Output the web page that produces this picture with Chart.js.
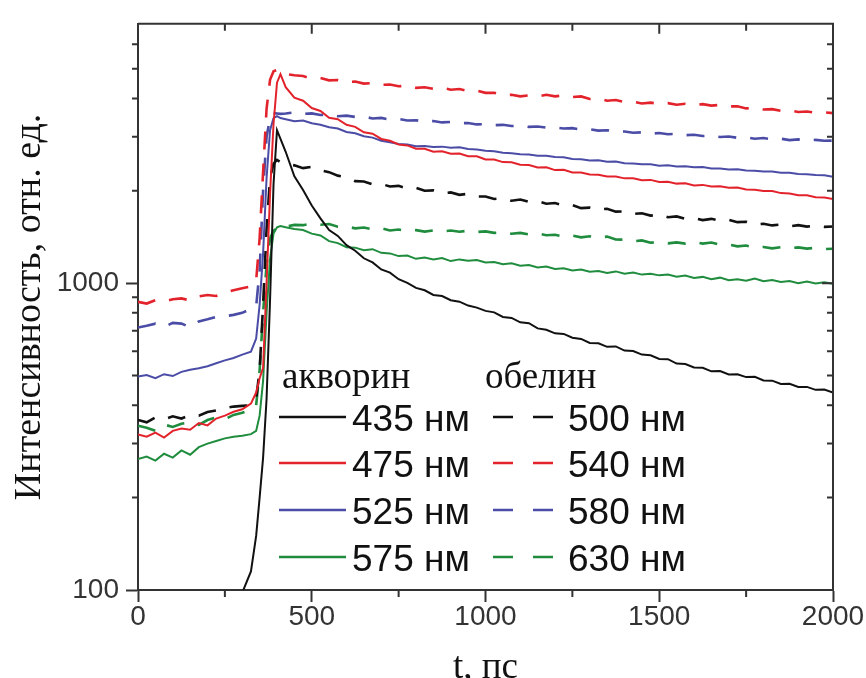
<!DOCTYPE html>
<html><head><meta charset="utf-8">
<script src="https://cdn.jsdelivr.net/npm/chart.js@4.4.0/dist/chart.umd.min.js"></script>
<style>html,body{margin:0;padding:0;background:#fff}#wrap{width:866px;height:678px}</style>
</head><body>
<div id="wrap"><canvas id="c" width="866" height="678"></canvas></div>
<script>
// time axis (ps)
const T = [0,25,50,75,100,125,150,175,200,225,250,275,300,325,
  340,350,360,370,380,390,400,410,
  425,450,475,500,525,550,575,600,625,650,675,700,725,750,775,800,825,850,875,900,925,950,975,1000,
  1025,1050,1075,1100,1125,1150,1175,1200,1225,1250,1275,1300,1325,1350,1375,1400,1425,1450,1475,1500,
  1525,1550,1575,1600,1625,1650,1675,1700,1725,1750,1775,1800,1825,1850,1875,1900,1925,1950,1975,2000];

// aequorin (solid)
const aq435 = [40,42,41,43,44,45,46,48,50,55,62,75,98,115,
  150,200,270,420,880,2100,3150,2950,
  2680,2230,2010,1790,1625,1490,1425,1330,1275,1205,1168,1108,1082,1030,1002,965,948,915,908,880,870,845,832,812,
  803,776,770,745,740,712,705,686,683,664,658,638,637,620,622,603,601,585,582,566,
  565,547,545,531,530,516,517,504,505,494,495,482,481,469,470,459,459,449,450,440];
const aq475 = [321,316,326,314,330,336,333,350,344,362,370,381,388,405,
  440,490,530,1000,1950,3300,4500,4800,
  4350,4020,3930,3720,3640,3460,3420,3280,3230,3100,3070,2950,2910,2830,2810,2740,2740,2680,2690,2640,2645,2590,2590,2530,
  2530,2480,2475,2430,2425,2380,2385,2335,2340,2295,2295,2260,2255,2225,2225,2195,2195,2165,2170,2135,
  2140,2110,2115,2080,2090,2065,2070,2045,2050,2020,2015,1995,1995,1965,1960,1935,1935,1905,1900,1880];
const aq525 = [496,502,490,505,498,514,522,528,536,548,560,570,585,598,
  660,850,1250,2200,3150,3450,3500,3450,
  3420,3370,3390,3320,3280,3220,3190,3110,3080,3010,2980,2910,2880,2840,2830,2795,2800,2775,2785,2760,2770,2735,2725,2700,
  2690,2660,2650,2630,2625,2600,2600,2575,2570,2540,2535,2510,2515,2485,2490,2460,2455,2440,2440,2415,
  2420,2400,2405,2385,2390,2365,2365,2345,2350,2330,2325,2310,2310,2290,2290,2270,2265,2250,2245,2220];
const aq575 = [267,272,264,278,270,285,276,292,300,306,312,316,318,322,
  330,370,480,800,1200,1450,1520,1535,
  1520,1500,1490,1450,1430,1370,1350,1310,1305,1280,1290,1255,1250,1225,1230,1200,1212,1195,1208,1180,1195,1182,1190,1168,
  1172,1152,1160,1140,1145,1125,1132,1112,1118,1100,1108,1090,1095,1080,1092,1074,1082,1066,1072,1060,
  1066,1050,1058,1040,1048,1030,1042,1022,1030,1018,1035,1015,1024,1008,1016,1000,1012,998,1006,995];

// obelin (dashed)
const ob500 = [358,352,365,360,368,362,372,370,380,385,392,396,398,400,
  420,520,850,1500,2200,2450,2520,2480,
  2450,2420,2370,2395,2330,2300,2240,2215,2150,2145,2100,2105,2065,2075,2030,2045,2000,2005,1965,1975,1940,1955,1915,1915,
  1880,1890,1855,1872,1840,1850,1815,1825,1790,1795,1755,1762,1735,1748,1710,1712,1680,1690,1660,1672,
  1640,1650,1620,1630,1605,1620,1595,1608,1580,1585,1552,1562,1542,1552,1532,1545,1528,1540,1525,1530];
const ob540 = [869,858,880,872,886,892,878,905,915,908,930,948,962,975,
  1020,1400,2300,3700,4600,4900,4950,4850,
  4800,4760,4730,4640,4660,4580,4590,4520,4540,4470,4490,4430,4440,4380,4400,4330,4350,4300,4330,4270,4290,4230,4240,4170,
  4170,4100,4110,4060,4090,4060,4110,4060,4090,4040,4060,3980,4000,3930,3950,3890,3900,3850,3875,3835,
  3860,3815,3840,3805,3830,3790,3810,3765,3770,3710,3730,3680,3690,3645,3660,3610,3625,3590,3600,3580];
const ob580 = [717,726,738,720,742,738,718,750,762,776,780,788,800,825,
  840,1100,2000,3000,3450,3580,3570,3560,
  3570,3600,3560,3575,3530,3545,3500,3515,3480,3490,3440,3455,3410,3425,3390,3395,3360,3375,3340,3350,3320,3325,3290,3300,
  3270,3280,3250,3260,3230,3240,3210,3220,3190,3200,3165,3170,3140,3150,3115,3120,3090,3100,3070,3085,
  3055,3065,3035,3045,3015,3025,2995,3005,2975,2985,2955,2970,2940,2955,2925,2940,2915,2930,2910,2915];
const ob630 = [343,338,330,346,340,348,352,345,358,365,360,372,378,386,
  400,520,800,1150,1400,1480,1510,1525,
  1530,1548,1545,1565,1550,1558,1528,1530,1508,1518,1498,1510,1485,1495,1478,1488,1472,1486,1474,1484,1470,1482,1468,1474,
  1458,1466,1448,1458,1440,1452,1432,1438,1418,1428,1410,1422,1405,1418,1388,1385,1368,1378,1355,1360,
  1348,1358,1345,1360,1345,1356,1335,1336,1318,1326,1305,1312,1298,1310,1298,1308,1296,1304,1292,1295];

// tick values
const xMajor = [0,500,1000,1500,2000];
const xMinor = [250,750,1250,1750];
const yMajor = [100,1000];
const yMinor = [200,300,400,500,600,700,800,900,2000,3000,4000,5000,6000];

const C_BLACK='#111111', C_RED='#e3232c', C_BLUE='#4a4ca6', C_GREEN='#1f8c3e';

function pts(arr){ return T.map((t,i)=>({x:t,y:arr[i]})); }
function solid(label,arr,color){ return {label,data:pts(arr),borderColor:color,borderWidth:2,pointRadius:0,tension:0,fill:false}; }
function dashed(label,arr,color){ return {label,data:pts(arr),borderColor:color,borderWidth:2.6,borderDash:[18,14],pointRadius:0,tension:0,fill:false}; }

const frame = {
  id:'frame',
  afterDraw(chart){
    const {ctx, chartArea:a, scales:{x,y}} = chart;
    ctx.save();
    ctx.strokeStyle='#333'; ctx.lineWidth=2;
    ctx.beginPath(); ctx.moveTo(a.left,a.top); ctx.lineTo(a.right,a.top); ctx.lineTo(a.right,a.bottom); ctx.stroke();
    ctx.beginPath();
    yMinor.forEach(v=>{const p=y.getPixelForValue(v); ctx.moveTo(a.left-6,p); ctx.lineTo(a.left,p); ctx.moveTo(a.right,p); ctx.lineTo(a.right-6,p);});
    yMajor.forEach(v=>{const p=y.getPixelForValue(v); ctx.moveTo(a.right,p); ctx.lineTo(a.right-11,p);});
    xMinor.forEach(v=>{const p=x.getPixelForValue(v); ctx.moveTo(p,a.bottom); ctx.lineTo(p,a.bottom+7); ctx.moveTo(p,a.top); ctx.lineTo(p,a.top+7);});
    xMajor.forEach(v=>{const p=x.getPixelForValue(v); ctx.moveTo(p,a.top); ctx.lineTo(p,a.top+10);});
    ctx.stroke();
    ctx.restore();
  }
};

const legendPlugin = {
  id:'customLegend',
  afterDatasetsDraw(chart){
    const ctx=chart.ctx; ctx.save();
    ctx.fillStyle='#111'; ctx.textBaseline='alphabetic';
    ctx.font='37px "Liberation Serif"';
    ctx.fillText('акворин',282,388); ctx.fillText('обелин',485,388);
    const rows=[417,463,510,557];
    chart.data.datasets.forEach((ds,i)=>{
      const col=i<4?0:1, y=rows[i%4];
      ctx.strokeStyle=ds.borderColor; ctx.lineWidth=2.5;
      ctx.setLineDash(col?[20,20]:[]);
      ctx.beginPath(); ctx.moveTo(col?493:279,y); ctx.lineTo(col?553:346,y); ctx.stroke();
      ctx.setLineDash([]);
      ctx.fillStyle='#111'; ctx.font='37px "Liberation Sans"';
      ctx.fillText(ds.label, col?568:352, y+14);
    });
    ctx.restore();
  }
};

new Chart(document.getElementById('c'), {
  type:'line',
  data:{datasets:[
    solid('435 нм',aq435,C_BLACK), solid('475 нм',aq475,C_RED), solid('525 нм',aq525,C_BLUE), solid('575 нм',aq575,C_GREEN),
    dashed('500 нм',ob500,C_BLACK), dashed('540 нм',ob540,C_RED), dashed('580 нм',ob580,C_BLUE), dashed('630 нм',ob630,C_GREEN)
  ]},
  options:{
    responsive:false, animation:false, devicePixelRatio:1,
    layout:{padding:{left:0,top:16,right:33,bottom:0}},
    plugins:{legend:{display:false},tooltip:{enabled:false}},
    scales:{
      x:{type:'linear',min:0,max:2000,
        ticks:{stepSize:500,color:'#333',font:{family:'Liberation Sans',size:28},padding:-2,maxRotation:0,callback:v=>String(v)},
        grid:{drawOnChartArea:false,drawTicks:true,tickLength:12,tickColor:'#333',tickWidth:2},
        border:{display:true,color:'#333',width:2},
        title:{display:true,text:'t, пс',color:'#111',font:{family:'Liberation Serif',size:37},padding:{top:0,bottom:-12}},
        afterFit(s){s.height=88;}
      },
      y:{type:'logarithmic',min:100,max:7000,
        afterBuildTicks(s){s.ticks=yMajor.map(v=>({value:v}));},
        ticks:{color:'#333',font:{family:'Liberation Sans',size:28},padding:7,callback:v=>String(v)},
        grid:{drawOnChartArea:false,drawTicks:true,tickLength:12,tickColor:'#333',tickWidth:2},
        border:{display:true,color:'#333',width:2},
        title:{display:true,text:'Интенсивность, отн. ед.',color:'#111',font:{family:'Liberation Serif',size:38},padding:{top:7,bottom:0}},
        afterFit(s){s.width=138;}
      }
    }
  },
  plugins:[frame,legendPlugin]
});
</script>
</body></html>
